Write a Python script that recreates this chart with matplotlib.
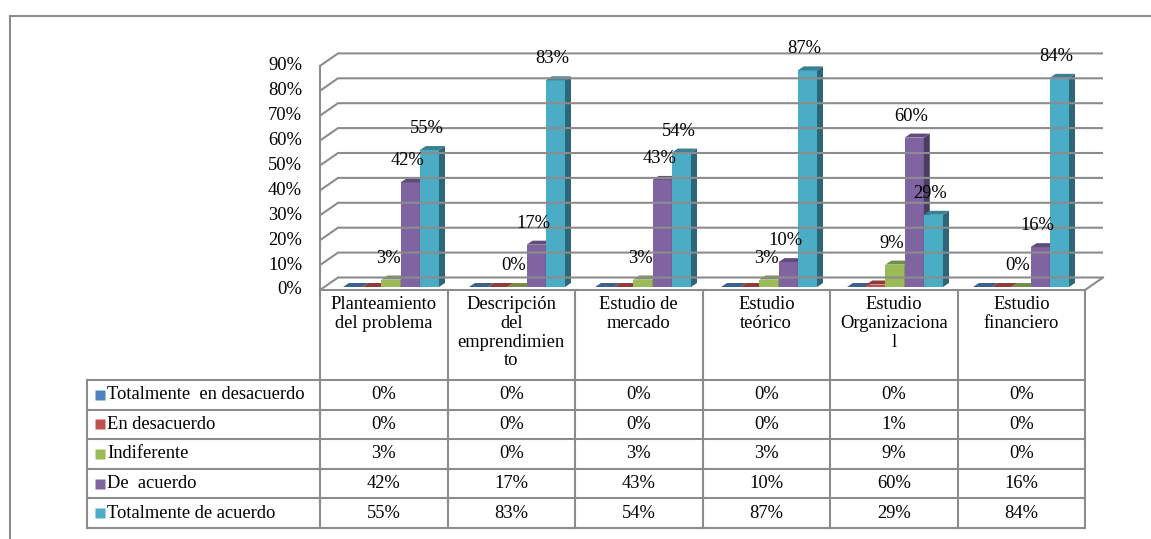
import numpy as np
import matplotlib.pyplot as plt
from matplotlib.patches import Polygon, Rectangle
from matplotlib.lines import Line2D

plt.rcParams['font.family'] = ['Liberation Serif', 'DejaVu Serif']
plt.rcParams['font.size'] = 13.3

categories = ['Planteamiento\ndel problema',
              'Descripción\ndel\nemprendimien\nto',
              'Estudio de\nmercado',
              'Estudio\nteórico',
              'Estudio\nOrganizaciona\nl',
              'Estudio\nfinanciero']
series_names = ['Totalmente  en desacuerdo', 'En desacuerdo', 'Indiferente',
                'De  acuerdo', 'Totalmente de acuerdo']
totalmente_desacuerdo = [0, 0, 0, 0, 0, 0]
en_desacuerdo = [0, 0, 0, 0, 1, 0]
indiferente = [3, 0, 3, 3, 9, 0]
de_acuerdo = [42, 17, 43, 10, 60, 16]
totalmente_acuerdo = [55, 83, 54, 87, 29, 84]
colors = ['#4F81BD', '#C0504D', '#9BBB59', '#8064A2', '#4BACC6']
labelled = [2, 3, 4]   # series that carry data labels on the bars

values = np.array([totalmente_desacuerdo, en_desacuerdo, indiferente,
                   de_acuerdo, totalmente_acuerdo])
yticks = np.arange(0, 91, 10)

W, H = 1151, 539
fig = plt.figure(figsize=(W / 100, H / 100), dpi=100)
GRAY = '#8c8c8c'

# pixel scale of one category and one percent point
PX_X = 127.5
PX_Y = 2.49


def box(left, top, right, bottom):
    return [left / W, 1 - bottom / H, (right - left) / W, (bottom - top) / H]


# ---- chart area (3D-look clustered columns) ----
ax = fig.add_axes(box(320, 30, 1110, 292))
ax.set_xlim(0, (1110 - 320) / PX_X)
ax.set_ylim(-2 / PX_Y, (290 - 30) / PX_Y)
ax.axis('off')

wall_dx, wall_dy = 18 / PX_X, 12.5 / PX_Y
n = len(categories)
for v in yticks:
    ax.plot([0, wall_dx, n + wall_dx], [v, v + wall_dy, v + wall_dy],
            color=GRAY, lw=1.5, solid_capstyle='butt', clip_on=False)
    ax.text(-18 / PX_X, v, f'{v}%', ha='right', va='center')
ax.plot([0, 0], [0, yticks[-1]], color=GRAY, lw=1.5, clip_on=False)
ax.plot([0, n, n + wall_dx], [0, 0, wall_dy], color=GRAY, lw=1.5,
        clip_on=False)

bar_w = 19.2 / PX_X
bar_pitch = 126 / PX_X
bar_x0 = (343 - 320) / PX_X
base = 3 / PX_Y
ddx, ddy = 6 / PX_X, 4 / PX_Y


def shade(c, f):
    rgb = np.array(plt.matplotlib.colors.to_rgb(c))
    return tuple(rgb * f)


for s, color in enumerate(colors):
    for i in range(n):
        v = values[s, i]
        x0 = bar_x0 + i * bar_pitch + s * bar_w
        x1 = x0 + bar_w
        top = base + v
        ax.add_patch(Rectangle((x0, base), bar_w, v, facecolor=color,
                               edgecolor='none'))
        ax.add_patch(Polygon([(x1, base), (x1 + ddx, base + ddy),
                              (x1 + ddx, top + ddy), (x1, top)],
                             facecolor=shade(color, 0.6), edgecolor='none'))
        ax.add_patch(Polygon([(x0, top), (x0 + ddx, top + ddy),
                              (x1 + ddx, top + ddy), (x1, top)],
                             facecolor=shade(color, 0.75), edgecolor='none'))
        if s in labelled:
            ax.text(x0 + bar_w / 2 - 3 / PX_X, top + 21.5 / PX_Y, f'{v}%',
                    ha='center', va='center')

# ---- data table ----
ROW = 29.6
hdr = 90 / ROW
tab = fig.add_axes(box(87, 290, 1085, 528))
x_left = -(320 - 87) / PX_X
tab.set_xlim(x_left, n)
tab.set_ylim(hdr + len(series_names), 0)
tab.axis('off')

for r in range(len(series_names) + 1):
    tab.plot([x_left, n], [hdr + r, hdr + r], color=GRAY, lw=1.5,
             clip_on=False)
for i in range(n + 1):
    tab.plot([i, i], [0, hdr + len(series_names)], color=GRAY, lw=1.5,
             clip_on=False)
tab.plot([x_left, x_left], [hdr, hdr + len(series_names)], color=GRAY,
         lw=1.5, clip_on=False)

for i, cat in enumerate(categories):
    tab.text(i + 0.5, 6 / ROW, cat, ha='center', va='top', linespacing=1.14)

for s, name in enumerate(series_names):
    yc = hdr + s + 0.5
    tab.plot([x_left + 13 / PX_X], [yc], marker='s', ms=7,
             color=colors[s], mec='none', clip_on=False)
    tab.text(x_left + 20 / PX_X, yc, name, ha='left', va='center')
    for i in range(n):
        tab.text(i + 0.5, yc, f'{values[s, i]}%', ha='center', va='center')

# outer frame (top and left edges)
fig.add_artist(Line2D([10 / W, 1], [1 - 16 / H, 1 - 16 / H], color=GRAY,
                      lw=1.5, transform=fig.transFigure))
fig.add_artist(Line2D([10 / W, 10 / W], [1 - 16 / H, 0], color=GRAY,
                      lw=1.5, transform=fig.transFigure))

fig.savefig('out.png', dpi=100, facecolor='white')
